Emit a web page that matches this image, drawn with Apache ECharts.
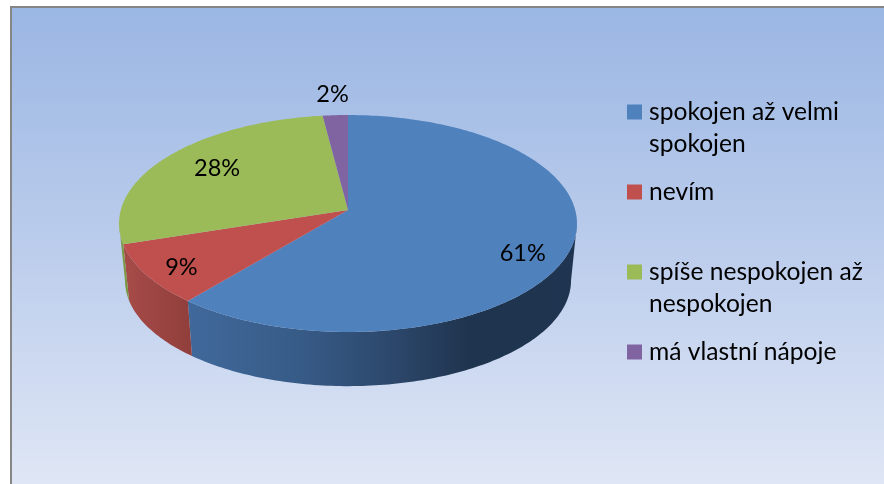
<!DOCTYPE html>
<html>
<head>
<meta charset="utf-8">
<title>Spokojenost</title>
<script src="https://cdn.jsdelivr.net/npm/echarts@6/dist/echarts.min.js"></script>
<style>
  html, body { margin: 0; padding: 0; background: #fff; }
  #chart { width: 884px; height: 484px; }
</style>
</head>
<body>
<div id="chart"></div>
<script>
// data
const categories = ['spokojen až velmi\nspokojen', 'nevím', 'spíše nespokojen až\nnespokojen', 'má vlastní nápoje'];
const shares = [61, 9, 28, 2];

// look of each slice
const topColors = ['#4f81bd', '#c0504d', '#9bbb59', '#8064a2'];
const sideStops = [
  [[188, '#40699b'], [300, '#375b87'], [400, '#2b4669'], [470, '#1f344e'], [577, '#1f3450']],
  [[125, '#a64b48'], [190, '#913f3c']],
  [[120, '#7f9b47'], [130, '#7a9543']],
  [[300, '#6a5387'], [350, '#6a5387']]
];
// radius factor and vertical nudge for the percent labels
const labelPull = [[0.79, 14], [0.835, 4], [0.715, -3], [1.25, 0]];

// perspective view of the pie: the far side is squeezed, the near side stretched
const cx = 348, cy = 210;
const rimA = 227.2, rimB = 106.8, skew = 0.1244;
const depthScale = 0.974, depthShift = 57, widest = 13.4;
const edge = Math.acos(-skew) * 180 / Math.PI; // where the rim turns away from the viewer

function project(deg, r) {
  const t = deg * Math.PI / 180;
  const u = r * Math.sin(t), v = -r * Math.cos(t);
  const d = 1 - skew * v;
  return [rimA * u / d, rimB * v / d];
}
function topPoint(deg, r) {
  const p = project(deg, r === undefined ? 1 : r);
  return [cx + p[0], cy + p[1]];
}
function bottomPoint(deg) {
  const p = project(deg, 1);
  return [cx + p[0] * depthScale, cy + widest + depthShift + (p[1] - widest) * depthScale];
}
function arc(a0, a1, fn) {
  const pts = [];
  const n = Math.max(2, Math.ceil(Math.abs(a1 - a0)));
  for (let i = 0; i <= n; i++) pts.push(fn(a0 + (a1 - a0) * i / n));
  return pts;
}

const total = shares.reduce((a, b) => a + b, 0);
const starts = shares.map((_, i) => shares.slice(0, i).reduce((a, b) => a + b, 0));

function renderSlice(idx) {
  return function (params, api) {
    const a0 = starts[idx] / total * 360;
    const a1 = a0 + api.value(0) / total * 360;
    const children = [];

    // wall, only the part of the rim that faces the viewer
    const s0 = Math.max(a0, edge), s1 = Math.min(a1, 360 - edge);
    if (s1 > s0) {
      const stops = sideStops[idx];
      const x0 = stops[0][0], x1 = stops[stops.length - 1][0];
      children.push({
        type: 'polygon',
        shape: { points: arc(s0, s1, topPoint).concat(arc(s1, s0, bottomPoint)) },
        style: {
          fill: new echarts.graphic.LinearGradient(x0, 0, x1, 0,
            stops.map(s => ({ offset: (s[0] - x0) / (x1 - x0), color: s[1] })), true)
        }
      });
    }

    // top face
    children.push({
      type: 'polygon',
      shape: { points: [[cx, cy]].concat(arc(a0, a1, topPoint)) },
      style: { fill: topColors[idx] }
    });

    // percent label
    const pull = labelPull[idx];
    const pos = topPoint((a0 + a1) / 2, pull[0]);
    children.push({
      type: 'text',
      z2: 10,
      style: {
        x: pos[0], y: pos[1] + pull[1],
        text: api.value(0) + '%',
        fill: '#000',
        font: '23.5px Lato',
        align: 'center',
        verticalAlign: 'middle'
      }
    });
    return { type: 'group', children: children };
  };
}

const chart = echarts.init(document.getElementById('chart'));
chart.setOption({
  animation: false,
  backgroundColor: '#fff',
  graphic: [{
    type: 'rect',
    silent: true,
    z: -10,
    shape: { x: 11, y: 7, width: 890, height: 490 },
    style: {
      fill: new echarts.graphic.LinearGradient(0, 0, 0, 1, [
        { offset: 0, color: '#9ab6e3' },
        { offset: 0.5, color: '#bccdec' },
        { offset: 1, color: '#e1e8f6' }
      ]),
      stroke: '#868686',
      lineWidth: 2
    }
  }],
  legend: {
    orient: 'vertical',
    left: 627,
    top: 64,
    padding: 0,
    itemGap: -16,
    itemWidth: 15,
    itemHeight: 15,
    icon: 'rect',
    selectedMode: false,
    data: categories,
    // three lines per entry, so the marker sits beside the first real line
    formatter: function (name) {
      const lines = name.split('\n');
      return ['', lines[0], lines[1] || ' '].join('\n');
    },
    textStyle: {
      color: '#000',
      fontFamily: 'Lato',
      fontSize: 24.6,
      lineHeight: 32,
      padding: [0, 0, 0, 2]
    }
  },
  series: categories.map((name, i) => ({
    type: 'custom',
    name: name,
    coordinateSystem: 'none',
    clip: false,
    silent: true,
    itemStyle: { color: topColors[i] },
    renderItem: renderSlice(i),
    data: [[shares[i]]]
  }))
});
</script>
</body>
</html>
